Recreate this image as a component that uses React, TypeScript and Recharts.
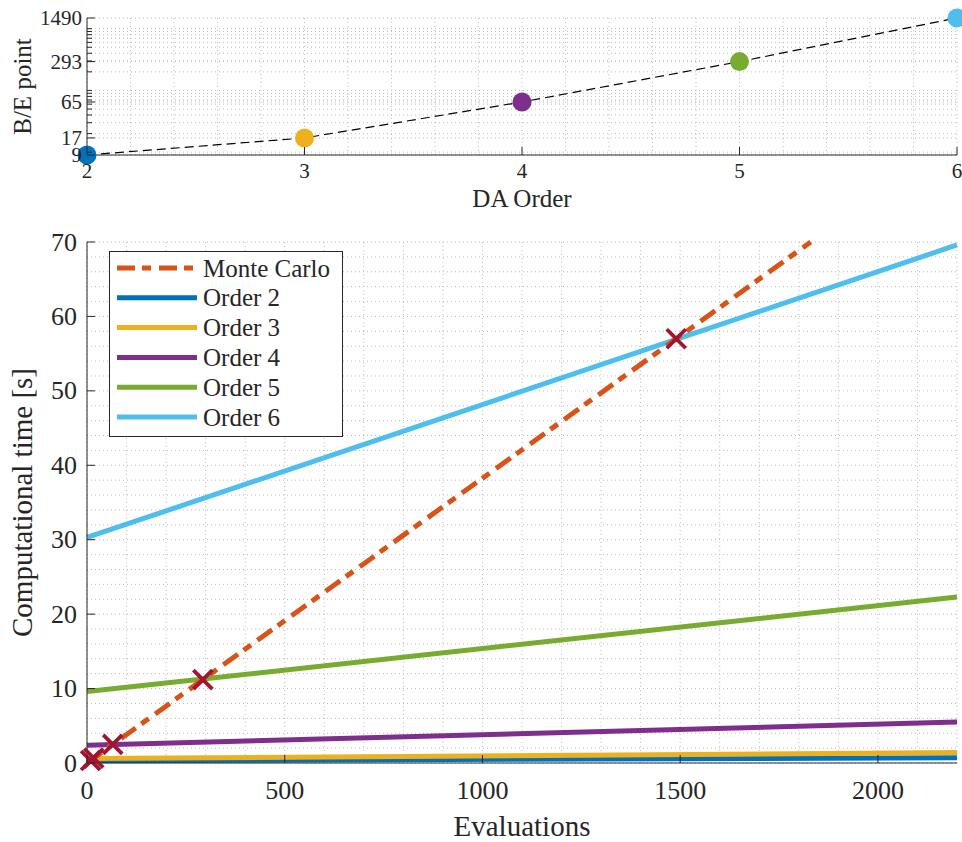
import { ComposedChart, Line, Scatter, XAxis, YAxis, CartesianGrid, Legend } from 'recharts'

const FONT = "'Liberation Serif', 'Times New Roman', serif"
const INK = '#262626'
const GRID = '#bdbdbd'

// break-even point per DA order
const daOrders = [2, 3, 4, 5, 6]
const breakEvenPoints = [9, 17, 65, 293, 1490]
const orderColors = ['#0072BD', '#EDB120', '#7E2F8E', '#77AC30', '#4DBEEE']
const orderNames = ['Order 2', 'Order 3', 'Order 4', 'Order 5', 'Order 6']
const beTicks = [9, 17, 65, 293, 1490]
const beMinorTicks = [10, 20, 30, 40, 50, 60, 70, 80, 90, 100, 200, 300, 400, 500, 600, 700, 800, 900, 1000]
const orderTicks = [2, 3, 4, 5, 6]
const orderGrid = [2, 2.2, 2.4, 2.6, 2.8, 3, 3.2, 3.4, 3.6, 3.8, 4, 4.2, 4.4, 4.6, 4.8, 5, 5.2, 5.4, 5.6, 5.8, 6]

// computational time vs number of evaluations
const evalTicks = [0, 500, 1000, 1500, 2000]
const evalGrid = [0, 100, 200, 300, 400, 500, 600, 700, 800, 900, 1000, 1100, 1200, 1300, 1400, 1500, 1600, 1700, 1800, 1900, 2000, 2100, 2200]
const timeTicks = [0, 10, 20, 30, 40, 50, 60, 70]
const timeGrid = [0, 2, 4, 6, 8, 10, 12, 14, 16, 18, 20, 22, 24, 26, 28, 30, 32, 34, 36, 38, 40, 42, 44, 46, 48, 50, 52, 54, 56, 58, 60, 62, 64, 66, 68, 70]

const orderEvals = [0, 2200]
const order2Time = [0.3, 0.7]
const order3Time = [0.6, 1.4]
const order4Time = [2.4, 5.5]
const order5Time = [9.6, 22.3]
const order6Time = [30.3, 69.6]
const orderTimes = [order2Time, order3Time, order4Time, order5Time, order6Time]

const mcEvals = [0, 1830]
const mcTime = [0, 70]
const mcColor = '#D95319'
const mcDash = '18 7 9 8'

const breakEvenTimes = [0.34, 0.65, 2.49, 11.2, 57]
const beColor = '#A2142F'

const toPoints = (xs: number[], ys: number[]) => xs.map((x, i) => ({ x, y: ys[i] }))

// MATLAB-style ticks: labels outside, tick marks pointing into the axes
function leftTick(margin: number, fontSize: number, labelled: number[] | null) {
  return (p: any) => {
    const v = p.payload.value
    const major = !labelled || labelled.includes(v)
    const ax = p.x + margin
    return (
      <g>
        <line x1={ax} x2={ax + (major ? 8 : 5)} y1={p.y} y2={p.y} stroke={INK} />
        {major && (
          <text x={p.x} y={p.y} textAnchor="end" dominantBaseline="central" fontSize={fontSize} fontFamily={FONT} fill={INK}>
            {v}
          </text>
        )}
      </g>
    )
  }
}

function rightTick(labelled: number[]) {
  return (p: any) => {
    const major = labelled.includes(p.payload.value)
    return <line x1={p.x} x2={p.x - (major ? 8 : 5)} y1={p.y} y2={p.y} stroke={INK} />
  }
}

function bottomTick(margin: number, fontSize: number) {
  return (p: any) => {
    const ay = p.y - margin
    return (
      <g>
        <line x1={p.x} x2={p.x} y1={ay} y2={ay - 8} stroke={INK} />
        <text x={p.x} y={p.y} textAnchor="middle" dominantBaseline="central" fontSize={fontSize} fontFamily={FONT} fill={INK}>
          {p.payload.value}
        </text>
      </g>
    )
  }
}

const topTick = (p: any) => <line x1={p.x} x2={p.x} y1={p.y} y2={p.y + 8} stroke={INK} />

function xTitle(text: string, fontSize: number, offset: number) {
  return (p: any) => {
    const vb = p.viewBox
    return (
      <text x={vb.x + vb.width / 2} y={vb.y + offset} textAnchor="middle" dominantBaseline="central" fontSize={fontSize} fontFamily={FONT} fill={INK}>
        {text}
      </text>
    )
  }
}

function yTitle(text: string, fontSize: number, cx: number) {
  return (p: any) => {
    const vb = p.viewBox
    const cy = vb.y + vb.height / 2
    return (
      <text x={cx} y={cy} transform={`rotate(-90 ${cx} ${cy})`} textAnchor="middle" dominantBaseline="central" fontSize={fontSize} fontFamily={FONT} fill={INK}>
        {text}
      </text>
    )
  }
}

function XMark(p: any) {
  const s = 9.5
  return (
    <g stroke={beColor} strokeWidth={3.8}>
      <line x1={p.cx - s} y1={p.cy - s} x2={p.cx + s} y2={p.cy + s} />
      <line x1={p.cx - s} y1={p.cy + s} x2={p.cx + s} y2={p.cy - s} />
    </g>
  )
}

const legendItems = [
  { name: 'Monte Carlo', color: mcColor, dash: mcDash },
  ...orderNames.map((name, i) => ({ name, color: orderColors[i], dash: undefined as string | undefined })),
]

function LegendBox() {
  return (
    <svg width={234} height={186} style={{ display: 'block' }}>
      <rect x={0.5} y={0.5} width={233} height={185} fill="#fff" stroke={INK} />
      {legendItems.map((it, i) => {
        const cy = 17 + i * 29.8
        return (
          <g key={it.name}>
            <line x1={8} x2={88} y1={cy} y2={cy} stroke={it.color} strokeWidth={5} strokeDasharray={it.dash} />
            <text x={94} y={cy} dominantBaseline="central" fontSize={25} fontFamily={FONT} fill={INK}>
              {it.name}
            </text>
          </g>
        )
      })}
    </svg>
  )
}

function BreakEvenChart() {
  const data = daOrders.map((order, i) => ({ order, be: breakEvenPoints[i] }))
  const yTicks = [...beTicks, ...beMinorTicks].sort((a, b) => a - b)
  return (
    <ComposedChart width={962} height={215} data={data} margin={{ top: 18, right: 5, bottom: 0, left: 0 }}>
      <CartesianGrid stroke={GRID} strokeDasharray="1 3" horizontalValues={yTicks} verticalValues={orderGrid} />
      <XAxis
        dataKey="order" type="number" domain={[2, 6]} ticks={orderTicks} interval={0}
        height={60} tickSize={0} tickMargin={16} tickLine={false} axisLine={{ stroke: INK }}
        tick={bottomTick(16, 21)} label={xTitle('DA Order', 25, 43)}
      />
      <XAxis
        xAxisId="top" orientation="top" type="number" domain={[2, 6]} ticks={orderTicks} interval={0}
        allowDataOverflow height={0} tickSize={0} tickMargin={0} tickLine={false} axisLine={{ stroke: INK }} tick={topTick}
      />
      <YAxis
        type="number" scale="log" domain={[9, 1490]} ticks={yTicks} interval={0}
        width={87} tickSize={0} tickMargin={5} tickLine={false} axisLine={{ stroke: INK }}
        tick={leftTick(5, 21, beTicks)} label={yTitle('B/E point', 25, 22)}
      />
      <YAxis
        yAxisId="right" orientation="right" type="number" scale="log" domain={[9, 1490]} ticks={yTicks} interval={0}
        allowDataOverflow width={0} tickSize={0} tickMargin={0} tickLine={false} axisLine={{ stroke: INK }} tick={rightTick(beTicks)}
      />
      <Line
        dataKey="be" stroke="#000" strokeWidth={1.2} strokeDasharray="9 5"
        dot={(p: any) => <circle key={p.index} cx={p.cx} cy={p.cy} r={9.5} fill={orderColors[p.index]} />}
        activeDot={false} isAnimationActive={false}
      />
    </ComposedChart>
  )
}

function TimingChart() {
  return (
    <ComposedChart width={962} height={627} margin={{ top: 27, right: 5, bottom: 0, left: 0 }}>
      <CartesianGrid stroke={GRID} strokeDasharray="1 3" horizontalValues={timeGrid} verticalValues={evalGrid} />
      <XAxis
        dataKey="x" type="number" domain={[0, 2200]} ticks={evalTicks} interval={0}
        height={79} tickSize={0} tickMargin={27} tickLine={false} axisLine={{ stroke: INK }}
        tick={bottomTick(27, 26)} label={xTitle('Evaluations', 29, 63)}
      />
      <YAxis
        type="number" domain={[0, 70]} ticks={timeTicks} interval={0}
        width={87} tickSize={0} tickMargin={10} tickLine={false} axisLine={{ stroke: INK }}
        tick={leftTick(10, 26, null)} label={yTitle('Computational time [s]', 29, 22)}
      />
      {orderTimes.map((t, i) => (
        <Line
          key={orderNames[i]} name={orderNames[i]} data={toPoints(orderEvals, t)} dataKey="y"
          stroke={orderColors[i]} strokeWidth={5} dot={false} activeDot={false} isAnimationActive={false}
        />
      ))}
      <Line
        name="Monte Carlo" data={toPoints(mcEvals, mcTime)} dataKey="y"
        stroke={mcColor} strokeWidth={5} strokeDasharray={mcDash} dot={false} activeDot={false} isAnimationActive={false}
      />
      <Scatter
        data={toPoints(breakEvenPoints, breakEvenTimes)} dataKey="y"
        shape={(p: any) => <XMark cx={p.cx} cy={p.cy} />} isAnimationActive={false}
      />
      <Legend
        layout="horizontal" verticalAlign="middle" align="center"
        wrapperStyle={{ left: 109, top: 36, width: 234, height: 186 }}
        content={() => <LegendBox />}
      />
    </ComposedChart>
  )
}

export default function App() {
  return (
    <div style={{ position: 'absolute', left: 0, top: 0, width: 962, height: 842, background: '#fff' }}>
      <BreakEvenChart />
      <TimingChart />
    </div>
  )
}
